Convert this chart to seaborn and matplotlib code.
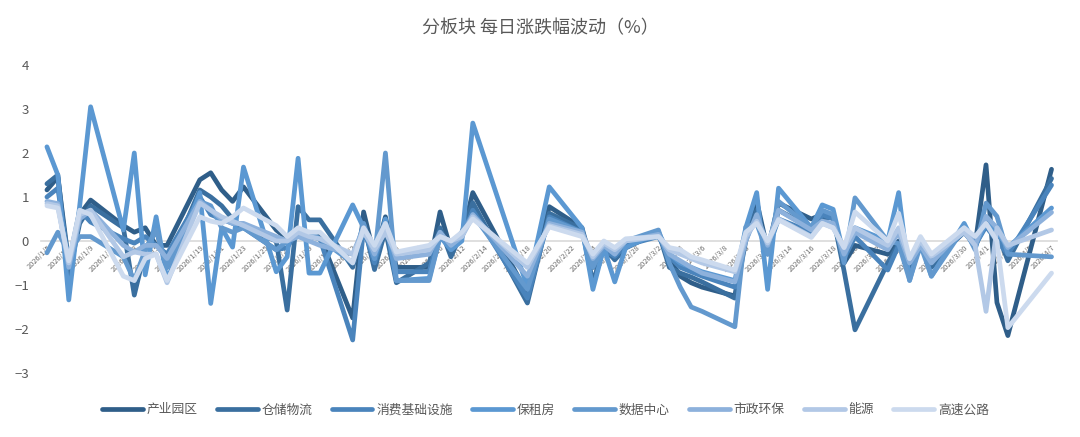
import numpy as np
import pandas as pd
import matplotlib
matplotlib.use("Agg")
import matplotlib.pyplot as plt
from matplotlib.lines import Line2D
import seaborn as sns

dates = [
    "2026-01-05", "2026-01-06", "2026-01-07", "2026-01-08", "2026-01-09",
    "2026-01-12", "2026-01-13", "2026-01-14", "2026-01-15", "2026-01-16",
    "2026-01-19", "2026-01-20", "2026-01-21", "2026-01-22", "2026-01-23",
    "2026-01-26", "2026-01-27", "2026-01-28", "2026-01-29", "2026-01-30",
    "2026-02-02", "2026-02-03", "2026-02-04", "2026-02-05", "2026-02-06",
    "2026-02-09", "2026-02-10", "2026-02-11", "2026-02-12", "2026-02-13",
    "2026-02-18", "2026-02-20", "2026-02-23", "2026-02-24", "2026-02-25",
    "2026-02-26", "2026-02-27",
    "2026-03-02", "2026-03-03", "2026-03-04", "2026-03-05", "2026-03-06",
    "2026-03-09", "2026-03-10", "2026-03-11", "2026-03-12", "2026-03-13",
    "2026-03-16", "2026-03-17", "2026-03-18", "2026-03-19", "2026-03-20",
    "2026-03-23", "2026-03-24", "2026-03-25", "2026-03-26", "2026-03-27",
    "2026-03-30", "2026-03-31",
    "2026-04-01", "2026-04-02", "2026-04-03", "2026-04-07",
]

industrial_park = [
    1.16, 1.45, -0.5, 0.6, 0.93, 0.35, 0.2, 0.3, -0.1, -0.1, 1.39, 1.55, 1.16, 0.9, 1.23, 0.25, 0.05, 0.2, 0.15, 0.1,
    -1.75, 0.66, -0.36, 0.55, -0.6, -0.6, 0.66, -0.2, 0.1, 1.1, -1.2, 0.78, 0.3, -0.6, -0.2, -0.4, -0.1,
    0.15, -0.4, -0.8, -0.95, -1.05, -1.25, 0.2, 0.9, -0.2, 0.86, 0.5, 0.6, 0.6, -0.5, -0.1, -0.3, 0.0, -0.6, 0.06, -0.5, 0.2, -0.1,
    1.73, -1.4, -2.15, 1.63,
]
logistics = [
    1.3, 1.5, -0.78, 0.4, 0.8, 0.3, -1.23, -0.2, 0.25, -0.6, 1.16, 1.0, 0.8, 0.5, 0.3, 0.0, -1.57, 0.78, 0.48, 0.48,
    -0.6, 0.4, -0.65, 0.25, -0.95, -0.5, 0.3, -0.36, 0.2, 0.87, -1.41, 0.63, 0.27, -0.95, -0.13, -0.43, -0.16,
    0.2, -0.6, -0.73, -0.82, -0.93, -1.3, 0.0, 0.7, -0.3, 0.7, 0.3, 0.5, 0.55, -0.68, -2.02, -0.5, -0.06, -0.62, 0.06, -0.6, 0.25, -0.15,
    0.5, 0.2, -0.45, 1.42,
]
consumer = [
    1.0, 1.2, -0.5, 0.7, 0.43, 0.05, -0.05, 0.1, -0.1, -0.3, 1.0, 0.6, 0.5, 0.4, 0.3, -0.2, -0.15, 0.25, 0.1, 0.05,
    -2.25, 0.3, -0.5, 0.4, -0.7, -0.7, 0.2, -0.2, 0.1, 0.7, -1.3, 0.55, 0.2, -0.5, -0.2, -0.35, -0.1,
    0.1, -0.35, -0.6, -0.7, -0.8, -1.05, 0.1, 0.5, -0.2, 0.5, 0.2, 0.6, 0.5, -0.4, 0.1, -0.66, -0.1, -0.5, -0.13, -0.45, 0.2, -0.1,
    0.33, 0.0, -0.3, 1.27,
]
rental_housing = [
    2.14, 1.5, -1.34, 0.8, 3.05, 0.25, 2.0, -0.77, 0.55, -0.9, 1.1, -1.42, 0.3, -0.14, 1.68, -0.7, -0.36, 1.88, -0.73, -0.73,
    0.82, 0.3, -0.4, 0.5, -0.9, -0.85, 0.1, -0.2, 0.0, 2.68, -1.05, 1.23, 0.3, -1.1, -0.15, -0.93, -0.15,
    0.2, -0.3, -0.5, -0.6, -0.7, -0.9, 0.3, 1.1, -1.1, 1.2, 0.3, 0.82, 0.72, -0.35, 0.3, 0.0, 1.1, -0.9, 0.0, -0.8, 0.4, -0.1,
    0.4, 0.2, -0.15, 0.75,
]
data_center = [
    -0.27, 0.2, -0.27, 0.1, 0.1, -0.36, -0.9, -0.2, 0.25, -0.6, 0.9, 0.8, 0.3, 0.2, 0.3, -0.2, 0.0, 0.1, 0.2, 0.05,
    -0.5, 0.4, -0.4, 2.0, -0.9, -0.9, 0.1, -0.1, 0.2, 0.6, -1.1, 0.5, 0.2, -0.6, -0.1, -0.3, 0.0,
    0.25, -0.5, -1.05, -1.5, -1.6, -1.95, 0.32, 0.4, -0.3, 0.9, 0.3, 0.7, 0.6, -0.5, 0.98, 0.0, -0.06, -0.89, -0.1, -0.8, 0.3, -0.2,
    0.86, 0.56, -0.3, -0.36,
]
municipal = [
    0.9, 0.85, -0.6, 0.5, 0.7, -0.1, -0.25, -0.1, -0.1, -0.4, 0.9, 0.7, 0.5, 0.4, 0.4, 0.1, 0.0, 0.1, 0.0, -0.1,
    -0.3, 0.3, -0.3, 0.3, -0.4, -0.3, 0.2, -0.1, 0.1, 0.6, -0.8, 0.4, 0.2, -0.4, -0.1, -0.3, 0.0,
    0.15, -0.3, -0.45, -0.6, -0.73, -0.93, 0.0, 0.6, -0.1, 0.7, 0.25, 0.45, 0.4, -0.3, 0.2, -0.2, 0.2, -0.5, -0.1, -0.5, 0.3, -0.1,
    0.56, 0.3, -0.15, 0.65,
]
energy = [
    0.85, 0.8, -0.5, 0.6, 0.7, -0.36, -0.25, -0.3, -0.3, -0.95, 0.86, 0.7, 0.55, 0.45, 0.35, 0.0, 0.0, 0.2, 0.1, 0.05,
    -0.3, 0.2, -0.2, 0.2, -0.3, -0.2, 0.1, 0.0, 0.1, 0.55, -0.6, 0.35, 0.15, -0.36, -0.05, -0.2, 0.0,
    0.1, -0.2, -0.3, -0.4, -0.5, -0.7, 0.1, 0.45, -0.05, 0.5, 0.1, 0.4, 0.3, -0.15, 0.3, -0.1, 0.3, -0.4, 0.0, -0.35, 0.2, -0.1,
    -1.6, 0.3, -0.1, 0.25,
]
highway = [
    0.8, 0.75, -0.45, 0.7, 0.6, -0.8, -0.9, -0.4, -0.3, -0.9, 0.55, 0.45, 0.4, 0.55, 0.75, 0.35, 0.1, 0.3, 0.2, 0.2,
    -0.5, 0.3, -0.1, 0.4, -0.25, -0.1, 0.1, 0.0, 0.2, 0.5, -0.5, 0.32, 0.1, -0.3, 0.0, -0.15, 0.05,
    0.1, -0.15, -0.2, -0.36, -0.43, -0.66, 0.2, 0.4, 0.0, 0.48, 0.08, 0.4, 0.3, -0.15, 0.66, 0.0, 0.63, -0.4, 0.1, -0.3, 0.3, 0.1,
    0.4, 0.0, -1.97, -0.73,
]

sectors = ["产业园区", "仓储物流", "消费基础设施", "保租房", "数据中心", "市政环保", "能源", "高速公路"]
series = [industrial_park, logistics, consumer, rental_housing, data_center, municipal, energy, highway]
colors = ["#2F5E89", "#3A6F9F", "#4A84BC", "#5B98D2", "#6399CE", "#8DB1DC", "#B2C8E6", "#CCDAEE"]

df = pd.DataFrame({
    "date": np.tile(pd.to_datetime(dates), len(sectors)),
    "value": np.concatenate(series),
    "sector": np.repeat(sectors, len(dates)),
})

sns.set_style("white")
plt.rcParams["font.family"] = ["Noto Sans CJK SC", "DejaVu Sans"]
grey = "#595959"

fig = plt.figure(figsize=(10.8, 4.37), dpi=100)
ax = fig.add_axes([0.0384, 0.1465, 0.9403, 0.7048])

sns.lineplot(data=df, x="date", y="value", hue="sector", hue_order=sectors,
             palette=colors, linewidth=3.4, legend=False, ax=ax,
             solid_joinstyle="round", solid_capstyle="round")

ax.set_xlim(pd.Timestamp("2026-01-04 12:00"), pd.Timestamp("2026-04-07 12:00"))
ax.set_ylim(-3, 4)
ax.set_yticks(range(-3, 5))
ax.set_xlabel("")
ax.set_ylabel("")

for side in ["top", "right", "left"]:
    ax.spines[side].set_visible(False)
ax.spines["bottom"].set_position(("data", 0))
ax.spines["bottom"].set_color("#D9D9D9")
ax.spines["bottom"].set_linewidth(1.2)
ax.spines["bottom"].set_zorder(0)

ticks = pd.date_range("2026-01-05", "2026-04-07", freq="2D")
ax.set_xticks(ticks)
ax.set_xticklabels([f"{d.year}/{d.month}/{d.day}" for d in ticks],
                   rotation=45, ha="right", va="top", rotation_mode="anchor",
                   fontsize=5.3, color="#6E6E6E")
ax.tick_params(axis="x", length=0, pad=2)
ax.tick_params(axis="y", length=0, pad=9, labelsize=9.5, labelcolor=grey)
ax.grid(False)

fig.text(0.5, 0.936, "分板块 每日涨跌幅波动（%）", ha="center", va="center",
         fontsize=13, fontweight="medium", color=grey)

handles = [Line2D([0], [0], color=c, lw=3.4) for c in colors]
fig.legend(handles, sectors, loc="center", bbox_to_anchor=(0.505, 0.062), ncol=8,
           frameon=False, fontsize=9.2, handlelength=3.2, columnspacing=1.5,
           handletextpad=0.3, labelcolor=grey)

fig.savefig("out.png", dpi=100)
